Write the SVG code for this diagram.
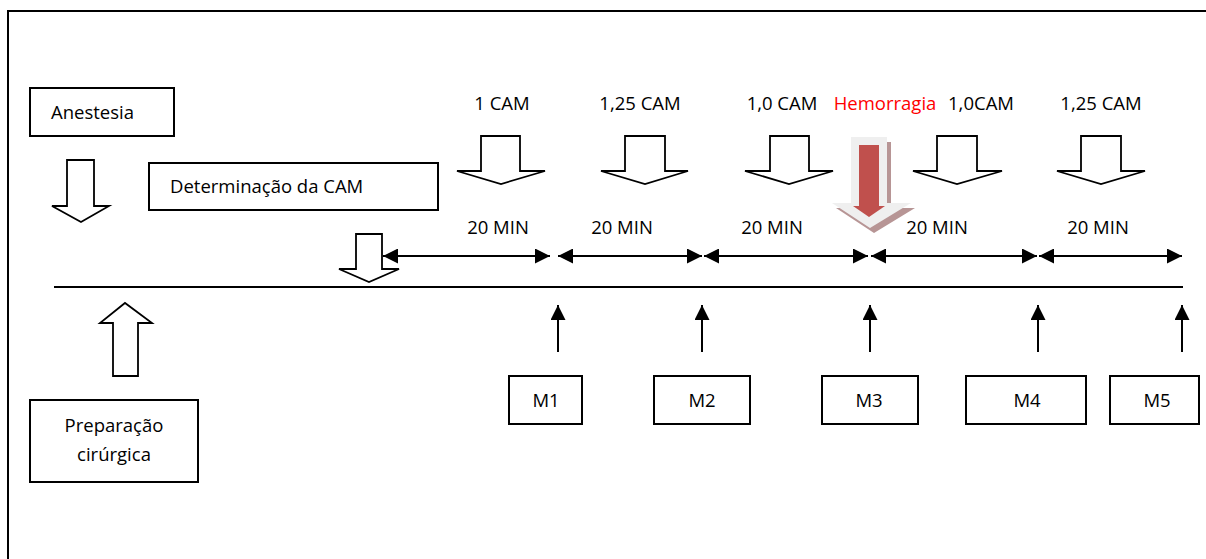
<svg xmlns="http://www.w3.org/2000/svg" width="1206" height="559" viewBox="0 0 1206 559">
  <style>
    .box { fill: #ffffff; stroke: #000000; stroke-width: 2; }
    .blk { fill: #ffffff; stroke: #000000; stroke-width: 1.8; stroke-linejoin: miter; }
    .ln { fill: none; stroke: #000000; stroke-width: 2; }
    .t { font-family: "Open Sans", "Noto Sans", "Liberation Sans", sans-serif; font-size: 18.5px; fill: #000000; }
    .c { text-anchor: middle; }
    .red { fill: #ff0000; }
  </style>
  <defs>
    <marker id="ah" viewBox="0 0 15 15" refX="15" refY="7.5" markerWidth="15" markerHeight="15" markerUnits="userSpaceOnUse" orient="auto-start-reverse">
      <path d="M0,0 L15,7.5 L0,15 Z" fill="#000000"/>
    </marker>
  </defs>
  <rect width="1206" height="559" fill="#ffffff"/>
  <!-- frame -->
  <path d="M8,562 L8,11 L1208,11" fill="none" stroke="#000000" stroke-width="2"/>

  <g id="anestesia">
    <rect class="box" x="30" y="88" width="144" height="48"/>
    <text class="t" x="51" y="119">Anestesia</text>
  </g>
  <g id="determinacao">
    <rect class="box" x="149" y="163" width="289" height="47"/>
    <text class="t" x="170" y="193">Determinação da CAM</text>
  </g>
  <g id="preparacao">
    <rect class="box" x="30" y="400" width="168" height="82"/>
    <text class="t c" x="114" y="432">Preparação</text>
    <text class="t c" x="114" y="461">cirúrgica</text>
  </g>

  <g id="block-arrows">
    <path class="blk" d="M67,160 L94,160 L94,206 L109,206 L81,222 L52,206 L67,206 Z"/>
    <path class="blk" d="M356,234 L382,234 L382,269 L399,269 L369,282 L339,269 L356,269 Z"/>
    <path class="blk" d="M113,376 L138,376 L138,323 L152,323 L125,303 L100,323 L113,323 Z"/>
    <path class="blk" d="M481,136 L520,136 L520,171 L545,171 L501,184 L457,171 L481,171 Z"/>
    <path class="blk" d="M625,136 L665,136 L665,171 L688,171 L645,184 L601,171 L625,171 Z"/>
    <path class="blk" d="M770,136 L809,136 L809,171 L833,171 L789,184 L745,171 L770,171 Z"/>
    <path class="blk" d="M937,136 L977,136 L977,171 L1002,171 L957,184 L913,171 L937,171 Z"/>
    <path class="blk" d="M1081,136 L1121,136 L1121,171 L1145,171 L1101,184 L1057,171 L1081,171 Z"/>
  </g>

  <g id="labels">
    <text class="t c" x="502" y="110">1 CAM</text>
    <text class="t c" x="640" y="110">1,25 CAM</text>
    <text class="t c" x="782" y="110">1,0 CAM</text>
    <text class="t c red" x="885" y="110">Hemorragia</text>
    <text class="t c" x="981" y="110">1,0CAM</text>
    <text class="t c" x="1101" y="110">1,25 CAM</text>
    <text class="t c" x="498" y="234">20 MIN</text>
    <text class="t c" x="622" y="234">20 MIN</text>
    <text class="t c" x="772" y="234">20 MIN</text>
    <text class="t c" x="937" y="234">20 MIN</text>
    <text class="t c" x="1098" y="234">20 MIN</text>
  </g>

  <g id="hemorragia-arrow">
    <path d="M855,142 L891,142 L891,208 L915,208 L874,233 L836,208 L855,208 Z" fill="#b79595"/>
    <path d="M851,137 L887,137 L887,203 L911,203 L870,228 L832,203 L851,203 Z" fill="#efefef"/>
    <path d="M859,145 L879,145 L879,206 L885,206 L869,217 L853,206 L859,206 Z" fill="#c0504d"/>
  </g>

  <g id="connectors">
    <line class="ln" x1="54" y1="287" x2="1183" y2="287"/>
    <line class="ln" x1="383" y1="256" x2="550" y2="256" marker-start="url(#ah)" marker-end="url(#ah)"/>
    <line class="ln" x1="558" y1="256" x2="702" y2="256" marker-start="url(#ah)" marker-end="url(#ah)"/>
    <line class="ln" x1="704" y1="256" x2="868" y2="256" marker-start="url(#ah)" marker-end="url(#ah)"/>
    <line class="ln" x1="871" y1="256" x2="1037" y2="256" marker-start="url(#ah)" marker-end="url(#ah)"/>
    <line class="ln" x1="1039" y1="256" x2="1182" y2="256" marker-start="url(#ah)" marker-end="url(#ah)"/>
    <line class="ln" x1="558" y1="352" x2="558" y2="305" marker-end="url(#ah)"/>
    <line class="ln" x1="702" y1="352" x2="702" y2="305" marker-end="url(#ah)"/>
    <line class="ln" x1="870" y1="352" x2="870" y2="305" marker-end="url(#ah)"/>
    <line class="ln" x1="1038" y1="352" x2="1038" y2="305" marker-end="url(#ah)"/>
    <line class="ln" x1="1182" y1="352" x2="1182" y2="305" marker-end="url(#ah)"/>
  </g>

  <g id="m1">
    <rect class="box" x="509" y="376" width="73" height="48"/>
    <text class="t c" x="546" y="407">M1</text>
  </g>
  <g id="m2">
    <rect class="box" x="654" y="376" width="96" height="48"/>
    <text class="t c" x="702" y="407">M2</text>
  </g>
  <g id="m3">
    <rect class="box" x="822" y="376" width="96" height="48"/>
    <text class="t c" x="869" y="407">M3</text>
  </g>
  <g id="m4">
    <rect class="box" x="966" y="376" width="120" height="48"/>
    <text class="t c" x="1027" y="407">M4</text>
  </g>
  <g id="m5">
    <rect class="box" x="1110" y="376" width="89" height="48"/>
    <text class="t c" x="1157" y="407">M5</text>
  </g>
</svg>
